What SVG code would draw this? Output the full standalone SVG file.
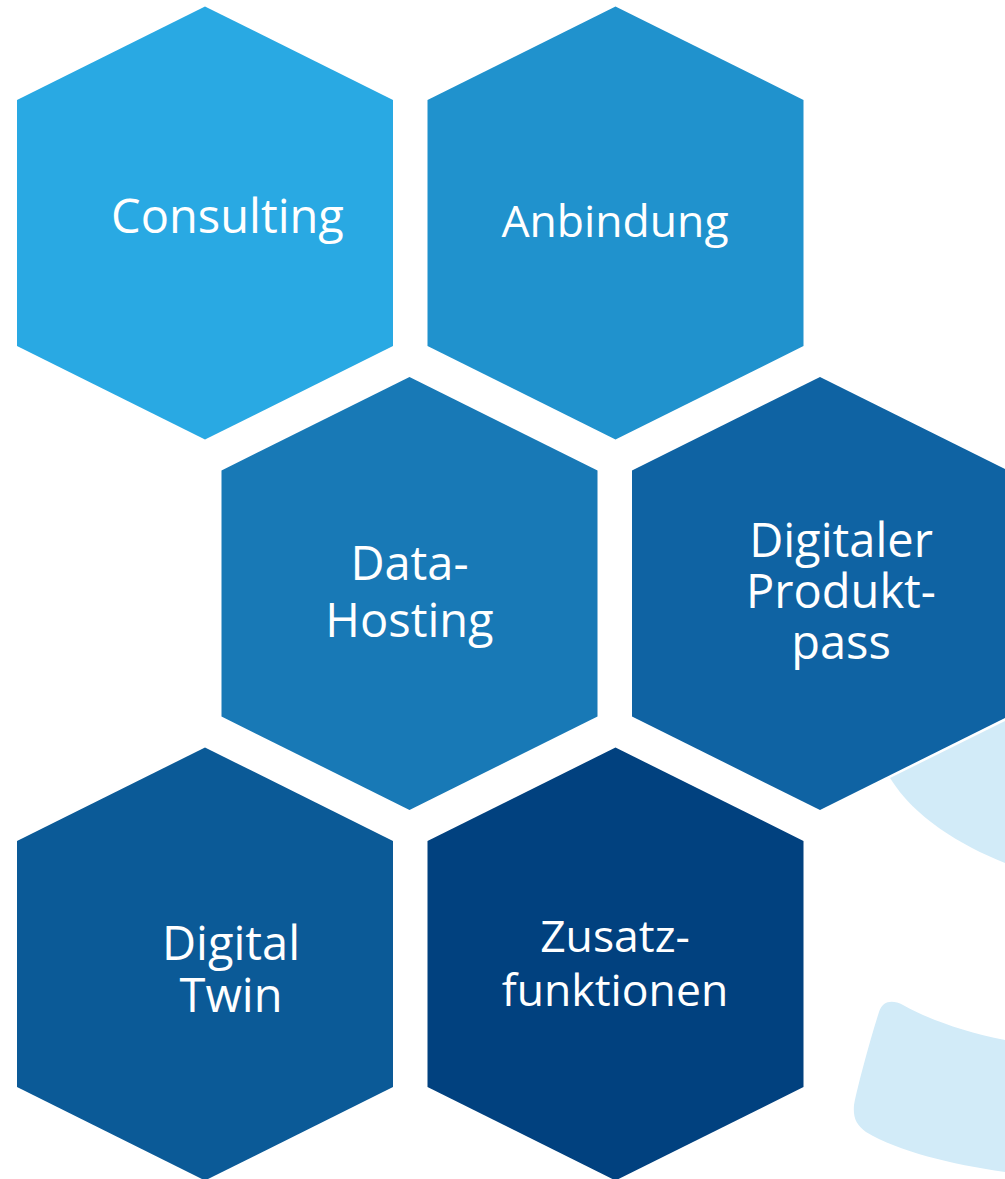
<svg xmlns="http://www.w3.org/2000/svg" width="1005" height="1179" viewBox="0 0 1005 1179">
<style>
text{font-family:"Open Sans","Noto Sans",sans-serif;font-size:47px;fill:#fff;text-anchor:middle}
text.s{font-size:44.500px}
.blob{fill:#d2ebf8}
</style>
<defs><polygon id="h" points="0,-216.500 188,-123 188,123 0,216.500 -188,123 -188,-123"/></defs>
<rect width="1005" height="1179" fill="#fff"/>
<path class="blob" d="M890,778 L1005,721 L1005,863 C960,845 915,818 890,778 Z"/>
<path class="blob" d="M1005,1040 C965,1032 930,1020 903,1005 C893,1000 883,1000 879,1012 C870,1040 858,1085 854,1105 C853,1118 856,1124 866,1132 C900,1152 950,1164 1005,1172 Z"/>
<g id="node-consulting"><use href="#h" x="205" y="223" fill="#29a9e3"/><text x="227.500" y="233">Consulting</text></g>
<g id="node-anbindung"><use href="#h" x="615.500" y="223" fill="#2092cd"/><text class="s" x="615" y="237">Anbindung</text></g>
<g id="node-data-hosting"><use href="#h" x="409.500" y="593.500" fill="#1879b6"/><text x="409.500" y="580">Data-</text><text x="409.500" y="637">Hosting</text></g>
<g id="node-produktpass"><use href="#h" x="820" y="593.500" fill="#0f63a3"/><text x="841" y="557">Digitaler</text><text x="841" y="608">Produkt-</text><text x="841" y="659">pass</text></g>
<g id="node-digital-twin"><use href="#h" x="205" y="964" fill="#0b5a97"/><text x="231" y="960">Digital</text><text x="231" y="1012">Twin</text></g>
<g id="node-zusatz"><use href="#h" x="615.500" y="964" fill="#01417f"/><text class="s" x="615" y="952">Zusatz-</text><text class="s" x="615" y="1006">funktionen</text></g>
<g id="connectors"></g>
</svg>
